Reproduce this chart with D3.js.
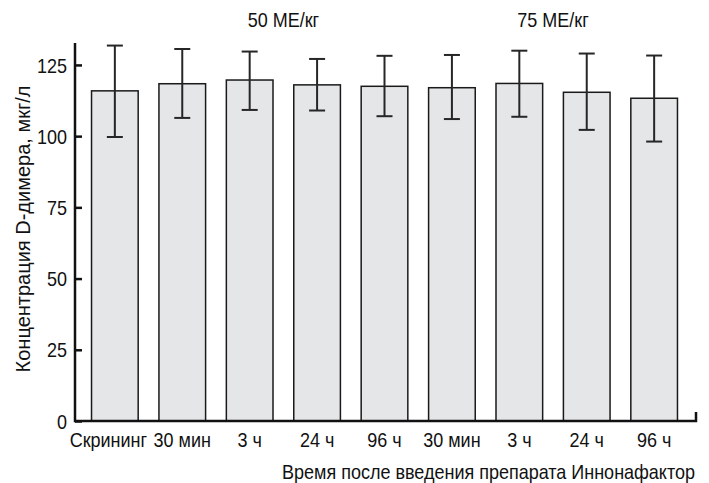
<!DOCTYPE html>
<html>
<head>
<meta charset="utf-8">
<script src="https://cdn.jsdelivr.net/npm/d3@7"></script>
<style>
  body { margin: 0; background: #fff; }
  svg text { font-family: "Liberation Sans", Arial, Helvetica, sans-serif; fill: #111; }
</style>
</head>
<body>
<svg width="709" height="483"></svg>
<script>
// categories and values
var categories = ['Скрининг', '30 мин', '3 ч', '24 ч', '96 ч', '30 мин ', '3 ч ', '24 ч ', '96 ч '];
var means = [115.9, 118.4, 119.7, 118.0, 117.5, 117.0, 118.5, 115.4, 113.3];
var errTop = [131.8, 130.6, 129.7, 127.1, 128.2, 128.5, 130.0, 129.0, 128.3];
var errBottom = [99.7, 106.4, 109.2, 109.0, 107.0, 106.0, 106.8, 102.2, 98.1];
var yTicks = [0, 25, 50, 75, 100, 125];
var groups = [
    {label: '50 МЕ/кг', from: 1, to: 4},
    {label: '75 МЕ/кг', from: 5, to: 8}
];
var yTitle = 'Концентрация D-димера, мкг/л';
var xTitle = 'Время после введения препарата Иннонафактор';

var margin = {top: 43, right: 13, bottom: 62, left: 75},
    width = 709,
    height = 483,
    plotRight = width - margin.right,
    plotBottom = height - margin.bottom;

// the original type is a slightly condensed grotesque
var squeeze = 0.9;
function place(x, y) {
    return 'translate(' + x + ',' + y + ') scale(' + squeeze + ',1)';
}

var svg = d3.select('svg');

var data = categories.map(function(c, i) {
    return {cat: c, mean: means[i], hi: errTop[i], lo: errBottom[i]};
});

var xScale = d3.scaleBand()
    .domain(categories)
    .range([margin.left - 1, plotRight - 1])
    .paddingInner(0.308)
    .paddingOuter(0.26);

var yScale = d3.scaleLinear()
    .domain([0, 132.7])
    .range([plotBottom, margin.top]);

function mid(cat) { return xScale(cat) + xScale.bandwidth() / 2; }

// bars
svg.append('g')
    .selectAll('rect')
    .data(data)
    .enter().append('rect')
    .attr('x', function(d) { return xScale(d.cat); })
    .attr('y', function(d) { return yScale(d.mean); })
    .attr('width', xScale.bandwidth())
    .attr('height', function(d) { return yScale(0) - yScale(d.mean); })
    .attr('fill', '#e5e6e8')
    .attr('stroke', '#1a1a1a')
    .attr('stroke-width', 1.5);

// error bars
var capW = 8;
var err = svg.append('g')
    .attr('stroke', '#262626')
    .attr('stroke-width', 2)
    .selectAll('g')
    .data(data)
    .enter().append('g');

err.append('line')
    .attr('x1', function(d) { return mid(d.cat); })
    .attr('x2', function(d) { return mid(d.cat); })
    .attr('y1', function(d) { return yScale(d.hi); })
    .attr('y2', function(d) { return yScale(d.lo); });

err.selectAll('line.cap')
    .data(function(d) { return [d.hi, d.lo].map(function(v) { return {cat: d.cat, v: v}; }); })
    .enter().append('line')
    .attr('class', 'cap')
    .attr('x1', function(d) { return mid(d.cat) - capW; })
    .attr('x2', function(d) { return mid(d.cat) + capW; })
    .attr('y1', function(d) { return yScale(d.v); })
    .attr('y2', function(d) { return yScale(d.v); });

// y axis with inward ticks
var yAxis = d3.axisLeft(yScale)
    .tickValues(yTicks)
    .tickSize(-7)
    .tickPadding(8);

var yG = svg.append('g')
    .attr('transform', 'translate(' + margin.left + ',0)')
    .call(yAxis);
yG.select('.domain').remove();
yG.selectAll('.tick line').attr('stroke', '#111').attr('stroke-width', 2.5);
yG.selectAll('.tick text')
    .attr('x', null)
    .attr('dy', '0.36em')
    .attr('transform', place(-8, 0))
    .style('font-size', '20px')
    .attr('fill', '#111');

// axis lines
svg.append('line')
    .attr('x1', margin.left).attr('x2', margin.left)
    .attr('y1', margin.top).attr('y2', plotBottom + 1.25)
    .attr('stroke', '#111').attr('stroke-width', 2.5);

svg.append('path')
    .attr('d', 'M' + margin.left + ',' + plotBottom + 'H' + plotRight + 'V' + (plotBottom - 9))
    .attr('fill', 'none')
    .attr('stroke', '#111')
    .attr('stroke-width', 2.5);

// x category labels (first one nudged left as in the original)
svg.append('g')
    .selectAll('text')
    .data(data)
    .enter().append('text')
    .attr('transform', function(d, i) { return place(mid(d.cat) - (i === 0 ? 6.5 : 0), plotBottom + 26); })
    .attr('text-anchor', 'middle')
    .style('font-size', '20px')
    .text(function(d) { return d.cat.trim(); });

// dose group labels
svg.append('g')
    .selectAll('text')
    .data(groups)
    .enter().append('text')
    .attr('transform', function(g) {
        return place((xScale(categories[g.from]) + xScale(categories[g.to]) + xScale.bandwidth()) / 2, 27);
    })
    .attr('text-anchor', 'middle')
    .style('font-size', '20px')
    .text(function(g) { return g.label; });

// axis titles
svg.append('text')
    .attr('transform', place(plotRight - 1, 479))
    .attr('text-anchor', 'end')
    .style('font-size', '20px')
    .text(xTitle);

svg.append('text')
    .attr('transform', 'translate(30,229) rotate(-90)')
    .attr('text-anchor', 'middle')
    .style('font-size', '20px')
    .text(yTitle);
</script>
</body>
</html>
